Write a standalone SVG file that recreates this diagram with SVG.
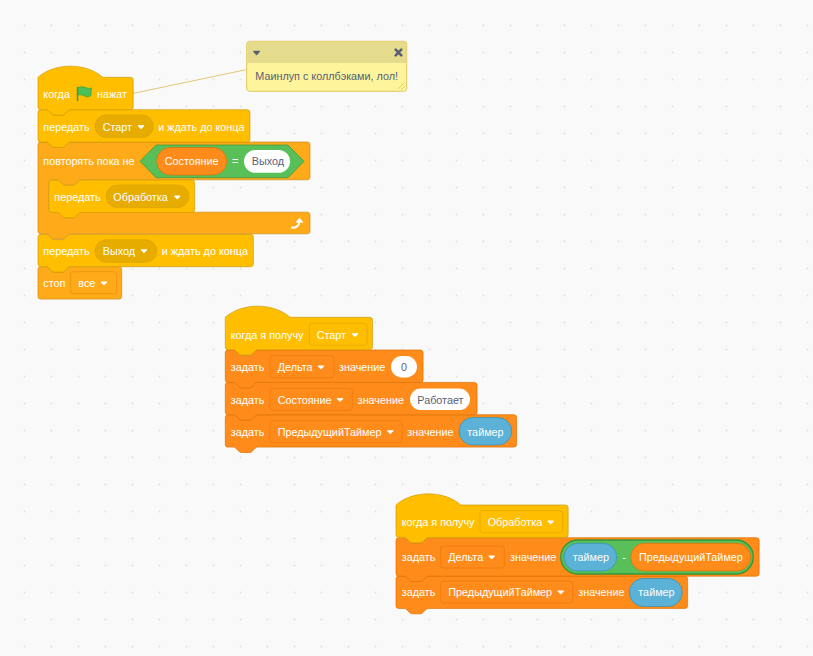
<svg xmlns="http://www.w3.org/2000/svg" xmlns:xlink="http://www.w3.org/1999/xlink" width="813" height="656" viewBox="0 0 813 656">
<style>
text{font-family:"Liberation Sans",Arial,sans-serif;font-size:10.8px;fill:#fff}
text.d{fill:#575E75}
.y{fill:#FFBF00;stroke:#CC9900;stroke-width:1}
.c{fill:#FFAB19;stroke:#CF8B17;stroke-width:1}
.v{fill:#FF8C1A;stroke:#DB6E00;stroke-width:1}
.dy{fill:#E6AC00;stroke:#D9A300;stroke-width:.675}
.dh{fill:#FFBF00;stroke:#DBA400;stroke-width:.675}
.dc{fill:#FFAB19;stroke:#E08E0B;stroke-width:.675}
.dv{fill:#FF8C1A;stroke:#E5760A;stroke-width:.675}
.vr{fill:#FF8C1A;stroke:#DB6E00;stroke-width:.675}
.se{fill:#5CB1D6;stroke:#2E8EB8;stroke-width:.675}
.g{fill:#59C059;stroke:#389438;stroke-width:.675}
.w{fill:#fff}
</style>
<defs>
<pattern id="grid" x="0" y="0" width="27" height="27" patternUnits="userSpaceOnUse"><circle cx="24.500" cy="25.500" r=".9" fill="#DDDDDD"/></pattern>
<path id="ar" d="M-2.600-1.200h5.200L0 1.400z" fill="#fff" stroke="#fff" stroke-width="1.200" stroke-linejoin="round"/>
</defs>
<rect width="813" height="656" fill="#F9F9F9"/>
<rect width="813" height="656" fill="url(#grid)"/>
<g id="connectors"><line x1="132.500" y1="93.500" x2="247" y2="69.500" stroke="#E0C878" stroke-width="1"/></g>

<g id="stop"><path class="c" transform="translate(38 266.700) scale(.675)" d="M0 4a4 4 0 0 1 4-4H12c2 0 3 1 4 2l4 4c1 1 2 2 4 2h12c2 0 3-1 4-2l4-4c1-1 2-2 4-2H120a4 4 0 0 1 4 4V44a4 4 0 0 1-4 4H4a4 4 0 0 1-4-4z"/>
<text x="43.300" y="287">стоп</text><rect class="dc" x="70.700" y="271.700" width="46" height="22" rx="2.700"/><text x="78.300" y="287">все</text><use xlink:href="#ar" x="104" y="283.300"/></g>

<g id="broadcast-exit"><path class="y" transform="translate(38 234.300) scale(.675)" d="M0 4a4 4 0 0 1 4-4H12c2 0 3 1 4 2l4 4c1 1 2 2 4 2h12c2 0 3-1 4-2l4-4c1-1 2-2 4-2H315a4 4 0 0 1 4 4V44a4 4 0 0 1-4 4H48c-2 0-3 1-4 2l-4 4c-1 1-2 2-4 2H24c-2 0-3-1-4-2l-4-4c-1-1-2-2-4-2H4a4 4 0 0 1-4-4z"/>
<text x="43.300" y="254.700">передать</text><rect class="dy" x="95" y="239.700" width="61.700" height="22.600" rx="11.300"/><text x="102.700" y="254.700">Выход</text><use xlink:href="#ar" x="144" y="251"/><text x="161.700" y="254.700">и ждать до конца</text></g>

<g id="repeat-until"><path class="c" transform="translate(38 142) scale(.675)" d="M0 4a4 4 0 0 1 4-4H12c2 0 3 1 4 2l4 4c1 1 2 2 4 2h12c2 0 3-1 4-2l4-4c1-1 2-2 4-2H399a4 4 0 0 1 4 4V52a4 4 0 0 1-4 4H64c-2 0-3 1-4 2l-4 4c-1 1-2 2-4 2H40c-2 0-3-1-4-2l-4-4c-1-1-2-2-4-2H20a4 4 0 0 0-4 4V100a4 4 0 0 0 4 4H399a4 4 0 0 1 4 4V132a4 4 0 0 1-4 4H48c-2 0-3 1-4 2l-4 4c-1 1-2 2-4 2H24c-2 0-3-1-4-2l-4-4c-1-1-2-2-4-2H4a4 4 0 0 1-4-4z"/>
<text x="43.300" y="165.200">повторять пока не</text>
<path class="g" d="M156 145H288L304 161.300 288 177.700H156L140 161.300z"/>
<rect class="vr" x="156.700" y="147.500" width="70" height="27.500" rx="13.700"/><text x="164.700" y="165.200">Состояние</text>
<text x="232" y="165.200">=</text>
<rect class="w" x="244" y="150" width="46" height="22.800" rx="11.400"/><text class="d" x="251.700" y="165.200">Выход</text>
<path d="M292 227.600c3.600.5 6.800-1 7.400-5.800" fill="none" stroke="#fff" stroke-width="2" stroke-linecap="round"/><path d="M296 222.300L299.500 218 303 222.300z" fill="#fff" stroke="#fff" stroke-width=".6" stroke-linejoin="round"/></g>

<g id="broadcast-process"><path class="y" transform="translate(48.800 180) scale(.675)" d="M0 4a4 4 0 0 1 4-4H12c2 0 3 1 4 2l4 4c1 1 2 2 4 2h12c2 0 3-1 4-2l4-4c1-1 2-2 4-2H212a4 4 0 0 1 4 4V44a4 4 0 0 1-4 4H48c-2 0-3 1-4 2l-4 4c-1 1-2 2-4 2H24c-2 0-3-1-4-2l-4-4c-1-1-2-2-4-2H4a4 4 0 0 1-4-4z"/>
<text x="54.300" y="201">передать</text><rect class="dy" x="106" y="185" width="83" height="22.600" rx="11.300"/><text x="113.300" y="201">Обработка</text><use xlink:href="#ar" x="177.300" y="197.300"/></g>

<g id="broadcast-start"><path class="y" transform="translate(38 109.700) scale(.675)" d="M0 4a4 4 0 0 1 4-4H12c2 0 3 1 4 2l4 4c1 1 2 2 4 2h12c2 0 3-1 4-2l4-4c1-1 2-2 4-2H310a4 4 0 0 1 4 4V44a4 4 0 0 1-4 4H48c-2 0-3 1-4 2l-4 4c-1 1-2 2-4 2H24c-2 0-3-1-4-2l-4-4c-1-1-2-2-4-2H4a4 4 0 0 1-4-4z"/>
<text x="43.300" y="131">передать</text><rect class="dy" x="95" y="115" width="58.300" height="22.600" rx="11.300"/><text x="102.700" y="131">Старт</text><use xlink:href="#ar" x="141" y="127"/><text x="158.300" y="131">и ждать до конца</text></g>

<g id="flag-hat"><path class="y" transform="translate(38 77.300) scale(.675)" d="M0 0c25-22 71-22 96 0H137a4 4 0 0 1 4 4V44a4 4 0 0 1-4 4H48c-2 0-3 1-4 2l-4 4c-1 1-2 2-4 2H24c-2 0-3-1-4-2l-4-4c-1-1-2-2-4-2H4a4 4 0 0 1-4-4z"/>
<text x="43.300" y="98">когда</text><text x="97" y="98">нажат</text>
<path d="M77.500 87.500c4-1.500 7-.5 9.500.5 2 .7 3.500.4 4.500-.2l-.7 8c-2 1.500-4.500 1.200-6.500.2-2.500-1.300-4.700-1.800-6.800-.6z" fill="#4CBF56" stroke="#45993D" stroke-width=".7" stroke-linejoin="round"/><path d="M77.500 87.500V100.500" stroke="#45993D" stroke-width="1.500" stroke-linecap="round" fill="none"/></g>

<g id="comment">
<rect x="246.700" y="41.300" width="160" height="50" rx="3" fill="#FEF49C" stroke="#E0C860" stroke-width="1"/>
<path d="M247.200 63V44.300a2.500 2.500 0 0 1 2.500-2.500H403.700a2.500 2.500 0 0 1 2.500 2.500V63z" fill="#E4DB8C"/>
<path d="M253.800 51.300h5.600L256.600 54.700z" fill="#575E75" stroke="#575E75" stroke-width="1.200" stroke-linejoin="round"/>
<path d="M395.700 49.700l5.600 5.600M401.300 49.700l-5.600 5.600" stroke="#575E75" stroke-width="2.600" stroke-linecap="round"/>
<path d="M398 89l6-6M401.500 89.500l3-3" stroke="#BCA903" stroke-opacity=".6" stroke-width=".8"/>
<text class="d" x="255.300" y="80">Маинлуп с коллбэками, лол!</text></g>

<g id="set-prev-1"><path class="v" transform="translate(225.300 414.700) scale(.675)" d="M0 4a4 4 0 0 1 4-4H12c2 0 3 1 4 2l4 4c1 1 2 2 4 2h12c2 0 3-1 4-2l4-4c1-1 2-2 4-2H427.500a4 4 0 0 1 4 4V44a4 4 0 0 1-4 4H48c-2 0-3 1-4 2l-4 4c-1 1-2 2-4 2H24c-2 0-3-1-4-2l-4-4c-1-1-2-2-4-2H4a4 4 0 0 1-4-4z"/>
<text x="230.700" y="435.700">задать</text><rect class="dv" x="270" y="420.700" width="132" height="22" rx="2.700"/><text x="277.700" y="435.700">ПредыдущийТаймер</text><use xlink:href="#ar" x="390.300" y="432"/><text x="407.300" y="435.700">значение</text><rect class="se" x="459" y="417.500" width="52.700" height="27.500" rx="13.700"/><text x="467.300" y="435.700">таймер</text></g>

<g id="set-state"><path class="v" transform="translate(225.300 382.400) scale(.675)" d="M0 4a4 4 0 0 1 4-4H12c2 0 3 1 4 2l4 4c1 1 2 2 4 2h12c2 0 3-1 4-2l4-4c1-1 2-2 4-2H369a4 4 0 0 1 4 4V44a4 4 0 0 1-4 4H48c-2 0-3 1-4 2l-4 4c-1 1-2 2-4 2H24c-2 0-3-1-4-2l-4-4c-1-1-2-2-4-2H4a4 4 0 0 1-4-4z"/>
<text x="230.700" y="403.700">задать</text><rect class="dv" x="270" y="388.300" width="82.300" height="22" rx="2.700"/><text x="277.700" y="403.700">Состояние</text><use xlink:href="#ar" x="340" y="399.700"/><text x="357.700" y="403.700">значение</text><rect class="w" x="410" y="388.500" width="60" height="21.600" rx="10.800"/><text class="d" x="417.300" y="403.700">Работает</text></g>

<g id="set-delta-1"><path class="v" transform="translate(225.300 350) scale(.675)" d="M0 4a4 4 0 0 1 4-4H12c2 0 3 1 4 2l4 4c1 1 2 2 4 2h12c2 0 3-1 4-2l4-4c1-1 2-2 4-2H289a4 4 0 0 1 4 4V44a4 4 0 0 1-4 4H48c-2 0-3 1-4 2l-4 4c-1 1-2 2-4 2H24c-2 0-3-1-4-2l-4-4c-1-1-2-2-4-2H4a4 4 0 0 1-4-4z"/>
<text x="230.700" y="371">задать</text><rect class="dv" x="270" y="355.700" width="64" height="22" rx="2.700"/><text x="277.700" y="371">Дельта</text><use xlink:href="#ar" x="321" y="367.300"/><text x="339" y="371">значение</text><rect class="w" x="391" y="356" width="26" height="21.500" rx="10.700"/><text class="d" x="401" y="371">0</text></g>

<g id="hat-start"><path class="y" transform="translate(225.300 317.300) scale(.675)" d="M0 0c25-22 71-22 96 0H214a4 4 0 0 1 4 4V44a4 4 0 0 1-4 4H48c-2 0-3 1-4 2l-4 4c-1 1-2 2-4 2H24c-2 0-3-1-4-2l-4-4c-1-1-2-2-4-2H4a4 4 0 0 1-4-4z"/>
<text x="230.700" y="338.700">когда я получу</text><rect class="dh" x="309.300" y="323.300" width="57.700" height="22" rx="2.700"/><text x="316.700" y="338.700">Старт</text><use xlink:href="#ar" x="355" y="335"/></g>

<g id="set-prev-2"><path class="v" transform="translate(396 576) scale(.675)" d="M0 4a4 4 0 0 1 4-4H12c2 0 3 1 4 2l4 4c1 1 2 2 4 2h12c2 0 3-1 4-2l4-4c1-1 2-2 4-2H428a4 4 0 0 1 4 4V44a4 4 0 0 1-4 4H48c-2 0-3 1-4 2l-4 4c-1 1-2 2-4 2H24c-2 0-3-1-4-2l-4-4c-1-1-2-2-4-2H4a4 4 0 0 1-4-4z"/>
<text x="401.700" y="596">задать</text><rect class="dv" x="440.700" y="581" width="132" height="22" rx="2.700"/><text x="448.300" y="596">ПредыдущийТаймер</text><use xlink:href="#ar" x="560.700" y="592.300"/><text x="578.300" y="596">значение</text><rect class="se" x="629.300" y="578.500" width="53" height="28" rx="14"/><text x="638.300" y="596">таймер</text></g>

<g id="set-delta-2"><path class="v" transform="translate(396 537.700) scale(.675)" d="M0 4a4 4 0 0 1 4-4H12c2 0 3 1 4 2l4 4c1 1 2 2 4 2h12c2 0 3-1 4-2l4-4c1-1 2-2 4-2H534a4 4 0 0 1 4 4V53a4 4 0 0 1-4 4H48c-2 0-3 1-4 2l-4 4c-1 1-2 2-4 2H24c-2 0-3-1-4-2l-4-4c-1-1-2-2-4-2H4a4 4 0 0 1-4-4z"/>
<text x="401.700" y="561">задать</text><rect class="dv" x="440.700" y="546" width="63.600" height="22" rx="2.700"/><text x="448.300" y="561">Дельта</text><use xlink:href="#ar" x="491.700" y="557.300"/><text x="510" y="561">значение</text>
<rect class="g" x="560.700" y="540" width="192.600" height="34" rx="17" style="stroke-width:1.300"/>
<rect class="se" x="564" y="543.300" width="52.700" height="27.700" rx="13.800"/><text x="572.700" y="561">таймер</text><text x="622.300" y="561">-</text>
<rect class="vr" x="630.700" y="543.300" width="120" height="27.700" rx="13.800"/><text x="639" y="561">ПредыдущийТаймер</text></g>

<g id="hat-process"><path class="y" transform="translate(396 505) scale(.675)" d="M0 0c25-22 71-22 96 0H251a4 4 0 0 1 4 4V44a4 4 0 0 1-4 4H48c-2 0-3 1-4 2l-4 4c-1 1-2 2-4 2H24c-2 0-3-1-4-2l-4-4c-1-1-2-2-4-2H4a4 4 0 0 1-4-4z"/>
<text x="401.700" y="526">когда я получу</text><rect class="dh" x="480" y="510.700" width="82.700" height="22" rx="2.700"/><text x="487.700" y="526">Обработка</text><use xlink:href="#ar" x="550.700" y="522.300"/></g>
</svg>
